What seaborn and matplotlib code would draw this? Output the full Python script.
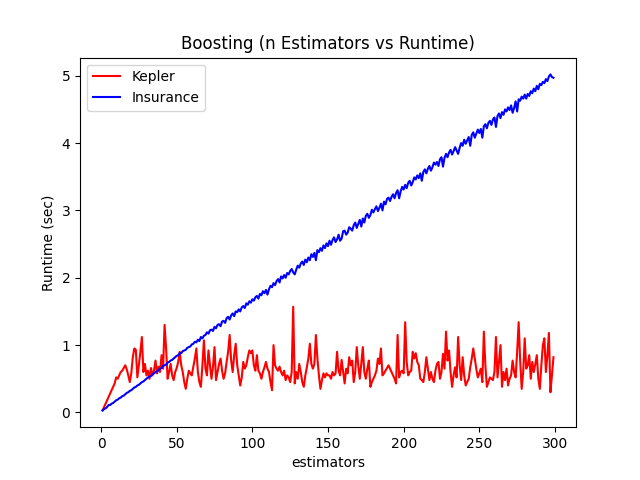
import numpy as np
import pandas as pd
import matplotlib
matplotlib.use("Agg")
import matplotlib.pyplot as plt
import seaborn as sns

# number of estimators on the x axis
estimators = list(range(1, 300))

# runtime (sec) per number of estimators
kepler_runtime = [
    0.03, 0.08, 0.13, 0.18, 0.23, 0.28, 0.33, 0.38, 0.43, 0.52,
    0.50, 0.55, 0.60, 0.62, 0.66, 0.70, 0.64, 0.55, 0.45, 0.58,
    0.82, 0.95, 0.93, 0.52, 0.70, 0.90, 1.12, 0.60, 0.72, 0.55,
    0.62, 0.50, 0.66, 0.55, 0.62, 0.77, 0.58, 0.68, 0.60, 0.85,
    0.65, 1.30, 0.95, 0.50, 0.60, 0.72, 0.55, 0.48, 0.60, 0.66,
    0.75, 0.90, 0.70, 0.60, 0.45, 0.35, 0.50, 0.62, 0.58, 0.55,
    0.68, 0.80, 0.95, 0.60, 0.45, 0.38, 0.70, 1.07, 0.65, 0.55,
    0.92, 0.70, 0.50, 0.68, 0.97, 0.48, 0.60, 0.72, 0.80, 0.62,
    0.50, 0.58, 0.75, 0.90, 1.15, 0.77, 0.60, 0.85, 1.02, 0.70,
    0.55, 0.40, 0.52, 0.75, 0.65, 0.70, 0.82, 0.92, 0.88, 0.92,
    0.70, 0.62, 0.85, 0.62, 0.58, 0.50, 0.60, 0.67, 0.75, 0.65,
    0.60, 0.45, 0.33, 1.00, 0.70, 0.65, 0.62, 0.68, 0.60, 0.55,
    0.62, 0.48, 0.55, 0.52, 0.45, 0.60, 1.57, 0.43, 0.60, 0.50,
    0.72, 0.60, 0.45, 0.38, 0.55, 0.67, 0.80, 1.02, 0.72, 0.65,
    0.72, 1.15, 0.80, 0.55, 0.35, 0.48, 0.58, 0.52, 0.58, 0.55,
    0.55, 0.50, 0.60, 0.55, 0.58, 0.90, 0.62, 0.55, 0.78, 0.60,
    0.43, 0.65, 0.58, 0.82, 0.70, 0.77, 0.45, 0.60, 0.97, 0.70,
    0.50, 0.72, 0.97, 0.60, 0.50, 0.65, 0.77, 0.38, 0.45, 0.50,
    0.55, 0.62, 0.80, 0.72, 0.95, 0.55, 0.58, 0.62, 0.66, 0.70,
    0.65, 0.60, 0.55, 0.50, 0.43, 1.15, 0.52, 0.60, 0.62, 0.58,
    1.34, 0.75, 0.55, 0.60, 0.62, 0.90, 0.80, 0.88, 0.75, 0.70,
    0.50, 0.48, 0.45, 0.60, 0.82, 0.65, 0.48, 0.60, 0.50, 0.45,
    0.62, 0.72, 0.75, 0.50, 0.60, 0.87, 0.65, 1.20, 0.77, 0.92,
    0.60, 0.38, 0.55, 0.67, 0.52, 1.12, 0.70, 0.48, 0.82, 0.55,
    0.40, 0.45, 0.50, 0.67, 0.80, 0.95, 0.80, 0.65, 0.52, 0.58,
    0.65, 0.45, 1.20, 0.70, 0.38, 0.45, 0.52, 0.50, 0.48, 0.60,
    1.12, 0.52, 0.75, 1.00, 0.38, 0.60, 0.48, 0.65, 0.40, 0.50,
    0.55, 0.77, 0.60, 0.52, 0.90, 1.34, 0.77, 0.35, 0.60, 1.10,
    0.65, 0.70, 0.85, 0.50, 0.75, 0.60, 0.72, 0.85, 0.50, 0.35,
    0.70, 1.00, 1.10, 0.60, 0.85, 1.18, 0.30, 0.55, 0.82,
]

insurance_runtime = [
    0.03, 0.05, 0.06, 0.08, 0.11, 0.11, 0.13, 0.14, 0.16, 0.18,
    0.19, 0.21, 0.22, 0.24, 0.25, 0.27, 0.29, 0.30, 0.32, 0.33,
    0.35, 0.37, 0.38, 0.40, 0.41, 0.43, 0.45, 0.46, 0.48, 0.50,
    0.52, 0.53, 0.54, 0.57, 0.58, 0.60, 0.61, 0.63, 0.65, 0.66,
    0.69, 0.70, 0.71, 0.74, 0.75, 0.77, 0.78, 0.80, 0.82, 0.84,
    0.85, 0.88, 0.88, 0.91, 0.92, 0.93, 0.96, 0.97, 0.98, 1.01,
    1.02, 1.05, 1.04, 1.08, 1.06, 1.12, 1.10, 1.14, 1.15, 1.19,
    1.17, 1.22, 1.23, 1.21, 1.27, 1.25, 1.30, 1.31, 1.28, 1.35,
    1.36, 1.33, 1.40, 1.42, 1.38, 1.44, 1.47, 1.43, 1.50, 1.49,
    1.53, 1.50, 1.56, 1.58, 1.55, 1.62, 1.60, 1.65, 1.63, 1.68,
    1.66, 1.71, 1.73, 1.69, 1.76, 1.74, 1.80, 1.77, 1.82, 1.75,
    1.83, 1.88, 1.86, 1.92, 1.89, 1.95, 1.98, 1.93, 2.02, 1.99,
    2.04, 2.00, 2.07, 2.05, 2.10, 2.13, 2.08, 2.05, 2.12, 2.18,
    2.15, 2.21, 2.24, 2.19, 2.27, 2.23, 2.30, 2.26, 2.35, 2.31,
    2.37, 2.26, 2.41, 2.38, 2.44, 2.40, 2.48, 2.44, 2.51, 2.47,
    2.55, 2.49, 2.56, 2.60, 2.53, 2.57, 2.64, 2.55, 2.58, 2.69,
    2.70, 2.64, 2.67, 2.75, 2.73, 2.70, 2.78, 2.82, 2.74, 2.80,
    2.86, 2.76, 2.88, 2.82, 2.92, 2.95, 2.89, 2.93, 3.01, 2.97,
    3.02, 3.06, 2.99, 3.04, 3.10, 3.00, 3.13, 3.09, 3.17, 3.19,
    3.14, 3.20, 3.24, 3.18, 3.26, 3.30, 3.18, 3.28, 3.35, 3.31,
    3.38, 3.33, 3.41, 3.44, 3.37, 3.42, 3.49, 3.46, 3.52, 3.48,
    3.55, 3.44, 3.57, 3.61, 3.55, 3.62, 3.66, 3.59, 3.64, 3.71,
    3.68, 3.72, 3.66, 3.76, 3.79, 3.65, 3.78, 3.84, 3.79, 3.86,
    3.90, 3.83, 3.88, 3.94, 3.89, 3.84, 3.93, 4.00, 3.96, 4.05,
    3.99, 4.04, 4.09, 3.96, 4.12, 4.16, 4.08, 4.14, 4.20, 4.15,
    4.21, 4.08, 4.25, 4.28, 4.22, 4.30, 4.33, 4.27, 4.35, 4.38,
    4.24, 4.40, 4.44, 4.37, 4.46, 4.42, 4.50, 4.47, 4.53, 4.49,
    4.56, 4.45, 4.52, 4.62, 4.47, 4.65, 4.63, 4.69, 4.66, 4.72,
    4.66, 4.73, 4.70, 4.77, 4.74, 4.81, 4.77, 4.85, 4.80, 4.88,
    4.86, 4.91, 4.89, 4.95, 4.92, 4.99, 5.02, 4.98, 4.97,
]

# Plot runtime vs number of estimators for both datasets
fig, ax = plt.subplots(figsize=(6.4, 4.8), dpi=100)
sns.lineplot(x=estimators, y=kepler_runtime, color="red", label="Kepler", ax=ax)
sns.lineplot(x=estimators, y=insurance_runtime, color="blue", label="Insurance", ax=ax)
ax.set_title("Boosting (n Estimators vs Runtime)")
ax.set_xlabel("estimators")
ax.set_ylabel("Runtime (sec)")
ax.legend(loc="upper left")
fig.savefig("out.png", dpi=100)
